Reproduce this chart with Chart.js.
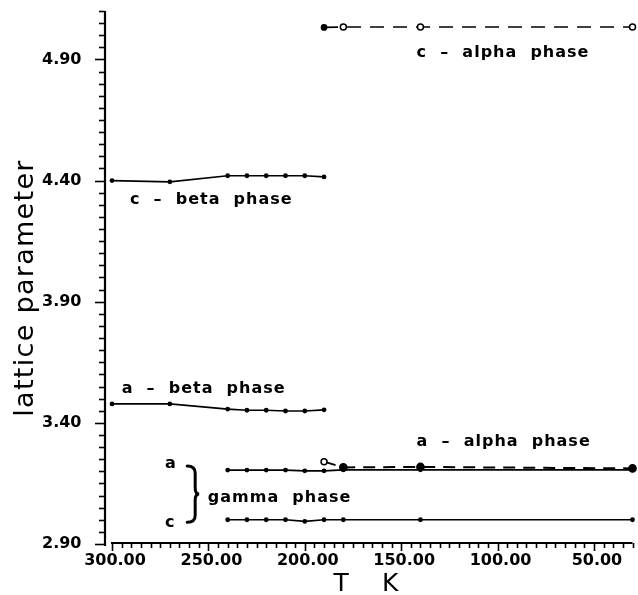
<!DOCTYPE html>
<html>
<head>
<meta charset="utf-8">
<script src="https://cdn.jsdelivr.net/npm/chart.js@4.4.0/dist/chart.umd.min.js"></script>
<style>
  html, body { margin: 0; padding: 0; background: #fff; }
</style>
</head>
<body>
<canvas id="latticeChart" width="638" height="595"></canvas>
<script>
// temperatures, K
var tBeta = [300, 270, 240, 230, 220, 210, 200, 190];
var tGamma = [240, 230, 220, 210, 200, 190, 180, 140, 30];
var tAlpha = [190, 180, 140, 30];

// lattice parameters
var cBeta = [4.400, 4.395, 4.420, 4.420, 4.420, 4.420, 4.420, 4.415];
var aBeta = [3.478, 3.478, 3.457, 3.452, 3.452, 3.449, 3.449, 3.454];
var aGamma = [3.205, 3.205, 3.205, 3.205, 3.202, 3.202, 3.206, 3.206, 3.206];
var cGamma = [3.000, 3.000, 3.000, 3.000, 2.993, 3.000, 3.000, 3.000, 3.000];
var cAlpha = [5.032, 5.034, 5.034, 5.034];
var aAlpha = [3.240, 3.216, 3.218, 3.212];

var xTicks = [300, 250, 200, 150, 100, 50];
var yTicks = [2.90, 3.40, 3.90, 4.40, 4.90];

function pts(xs, ys) {
  return xs.map(function (x, i) { return { x: x, y: ys[i] }; });
}

var FONT = 'DejaVu Sans';

// text labels placed in data space
var notes = [
  { text: 'c  \u2013  alpha  phase', x: 142, y: 4.911 },
  { text: 'c  \u2013  beta  phase', x: 290.7, y: 4.302 },
  { text: 'a  \u2013  beta  phase', x: 295, y: 3.522 },
  { text: 'a  \u2013  alpha  phase', x: 142, y: 3.306 },
  { text: 'gamma  phase', x: 250.3, y: 3.075 },
  { text: 'a', x: 272.5, y: 3.212 },
  { text: 'c', x: 272.5, y: 2.971 }
];

// axes, tick marks and the annotations
var frame = {
  id: 'frame',
  afterDraw: function (chart) {
    var ctx = chart.ctx, xs = chart.scales.x, ys = chart.scales.y, a = chart.chartArea;
    ctx.save();
    ctx.strokeStyle = '#000';
    ctx.fillStyle = '#000';

    // y axis sits a bit left of the first x value
    var yx = a.left - 7;
    ctx.lineWidth = 2.2;
    ctx.beginPath();
    ctx.moveTo(yx, a.top);
    ctx.lineTo(yx, a.bottom + 2);
    ctx.stroke();
    ctx.lineWidth = 1.6;
    for (var i = 0; i <= 44; i++) {
      var py = Math.round(ys.getPixelForValue(2.9 + i * 0.05)) + 0.5;
      var len = (i % 10 === 0) ? 10 : 6;
      ctx.beginPath();
      ctx.moveTo(yx - len, py);
      ctx.lineTo(yx, py);
      ctx.stroke();
    }

    // x axis with ticks hanging below
    var xb = a.bottom - 1;
    ctx.lineWidth = 2.2;
    ctx.beginPath();
    ctx.moveTo(a.left - 1, xb);
    ctx.lineTo(a.right, xb);
    ctx.stroke();
    ctx.lineWidth = 1.6;
    for (var t = 30; t <= 300; t += 5) {
      var px = Math.round(xs.getPixelForValue(t)) + 0.5;
      var tl = (t % 50 === 0) ? 8 : 5;
      ctx.beginPath();
      ctx.moveTo(px, xb);
      ctx.lineTo(px, xb + tl);
      ctx.stroke();
    }

    // annotations
    if ('letterSpacing' in ctx) ctx.letterSpacing = '1px';
    ctx.font = 'bold 16px ' + FONT;
    ctx.textAlign = 'left';
    ctx.textBaseline = 'alphabetic';
    notes.forEach(function (n) {
      ctx.fillText(n.text, xs.getPixelForValue(n.x), ys.getPixelForValue(n.y));
    });

    // brace for the gamma phase
    var bx = xs.getPixelForValue(261), by0 = ys.getPixelForValue(3.222),
        by1 = ys.getPixelForValue(2.99), bm = (by0 + by1) / 2;
    ctx.lineWidth = 3;
    ctx.lineCap = 'round';
    ctx.beginPath();
    ctx.moveTo(bx, by0);
    ctx.quadraticCurveTo(bx + 8, by0, bx + 8, by0 + 7);
    ctx.lineTo(bx + 8, bm - 6);
    ctx.quadraticCurveTo(bx + 8, bm, bx + 12, bm);
    ctx.quadraticCurveTo(bx + 8, bm, bx + 8, bm + 6);
    ctx.lineTo(bx + 8, by1 - 7);
    ctx.quadraticCurveTo(bx + 8, by1, bx, by1);
    ctx.stroke();

    // axis titles
    ctx.font = '25px ' + FONT;
    if ('letterSpacing' in ctx) ctx.letterSpacing = '0px';
    ctx.textAlign = 'center';
    var mid = (a.left + a.right) / 2;
    ctx.fillText('T', mid - 31, 591);
    ctx.fillText('K', mid + 18, 591);

    ctx.translate(33, 288);
    ctx.rotate(-Math.PI / 2);
    ctx.font = '27px ' + FONT;
    if ('letterSpacing' in ctx) ctx.letterSpacing = '1.3px';
    ctx.fillText('lattice parameter', 0, 0);
    ctx.restore();
  }
};

var base = {
  borderColor: '#000',
  borderWidth: 1.7,
  pointRadius: 2.4,
  pointBackgroundColor: '#000',
  pointBorderColor: '#000',
  pointBorderWidth: 0,
  tension: 0,
  clip: false
};

var ctx = document.getElementById('latticeChart').getContext('2d');
var latticeChart = new Chart(ctx, {
  type: 'line',
  data: {
    datasets: [
      Object.assign({ label: 'c - beta phase', data: pts(tBeta, cBeta) }, base),
      Object.assign({ label: 'a - beta phase', data: pts(tBeta, aBeta) }, base),
      Object.assign({ label: 'a - gamma phase', data: pts(tGamma, aGamma) }, base),
      Object.assign({ label: 'c - gamma phase', data: pts(tGamma, cGamma) }, base),
      Object.assign({}, base, {
        label: 'c - alpha phase',
        data: pts(tAlpha, cAlpha),
        borderDash: [14, 9],
        pointRadius: [2.6, 3, 3, 3],
        pointBackgroundColor: ['#000', '#fff', '#fff', '#fff'],
        pointBorderWidth: 1.5
      }),
      Object.assign({}, base, {
        label: 'a - alpha phase',
        data: pts(tAlpha, aAlpha),
        borderDash: [12, 8],
        borderWidth: 2,
        pointRadius: [3, 3.6, 3.6, 3.6],
        pointBackgroundColor: ['#fff', '#000', '#000', '#000'],
        pointBorderWidth: 1.5
      })
    ]
  },
  options: {
    responsive: false,
    animation: false,
    devicePixelRatio: 1,
    layout: { padding: { top: 11, right: 5, left: 42, bottom: 0 } },
    plugins: { legend: { display: false }, tooltip: { enabled: false } },
    scales: {
      x: {
        type: 'linear',
        reverse: true,
        min: 30,
        max: 300,
        grid: { display: false, drawTicks: false },
        border: { display: false },
        ticks: {
          color: '#000',
          font: { family: FONT, size: 16, weight: 'bold' },
          padding: 7,
          labelOffset: 3,
          maxRotation: 0,
          autoSkip: false,
          callback: function (v) { return Number(v).toFixed(2); }
        },
        afterBuildTicks: function (axis) {
          axis.ticks = xTicks.map(function (v) { return { value: v }; });
        },
        afterFit: function (axis) { axis.height = 51; }
      },
      y: {
        type: 'linear',
        min: 2.9,
        max: 5.1,
        grid: { display: false, drawTicks: false },
        border: { display: false },
        ticks: {
          color: '#000',
          font: { family: FONT, size: 16, weight: 'bold' },
          padding: 0,
          crossAlign: 'far',
          callback: function (v) { return Number(v).toFixed(2); }
        },
        afterBuildTicks: function (axis) {
          axis.ticks = yTicks.map(function (v) { return { value: v }; });
        },
        afterFit: function (axis) { axis.width = 70; }
      }
    }
  },
  plugins: [frame]
});
</script>
</body>
</html>
